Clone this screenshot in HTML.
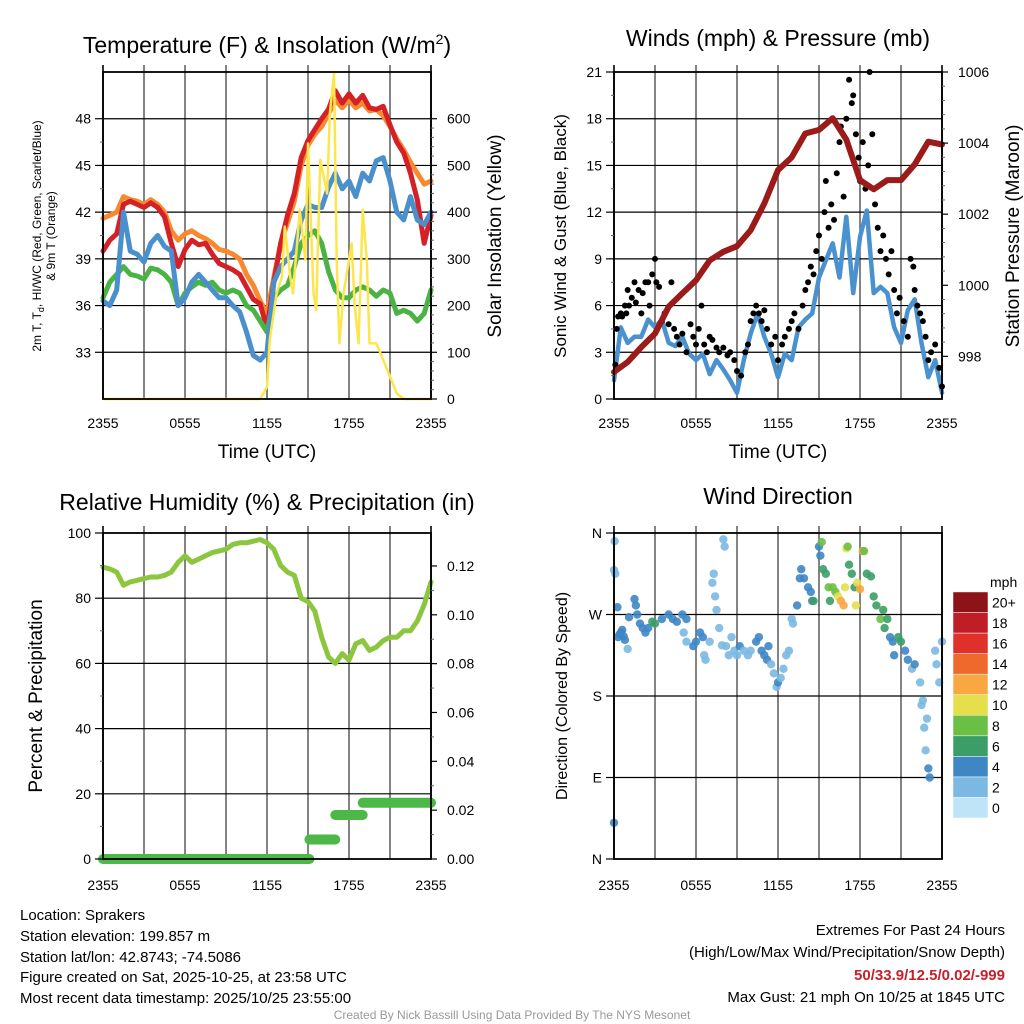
<!DOCTYPE html>
<html><head><meta charset="utf-8"><style>
body{margin:0;background:#fff;}
svg{display:block;font-family:"Liberation Sans",sans-serif;}
</style></head><body>
<svg id="chart" width="1024" height="1024" viewBox="0 0 1024 1024" xmlns="http://www.w3.org/2000/svg">
<g id="static">
<text x="267" y="53" font-size="23" text-anchor="middle">Temperature (F) &amp; Insolation (W/m<tspan dy="-9" font-size="14">2</tspan><tspan dy="9">)</tspan></text>
<text x="778" y="46" font-size="23" text-anchor="middle">Winds (mph) &amp; Pressure (mb)</text>
<text x="267" y="510" font-size="23" text-anchor="middle">Relative Humidity (%) &amp; Precipitation (in)</text>
<text x="778" y="504" font-size="23" text-anchor="middle">Wind Direction</text>
<text x="267" y="458" font-size="19" text-anchor="middle">Time (UTC)</text>
<text x="778" y="458" font-size="19" text-anchor="middle">Time (UTC)</text>
<text transform="translate(41,236) rotate(-90)" font-size="12" text-anchor="middle">2m T, T<tspan dy="3" font-size="9">d</tspan><tspan dy="-3">, HI/WC (Red, Green, Scarlet/Blue)</tspan></text>
<text transform="translate(55,236) rotate(-90)" font-size="12" text-anchor="middle">&amp; 9m T (Orange)</text>
<text transform="translate(501,236) rotate(-90)" font-size="19" text-anchor="middle">Solar Insolation (Yellow)</text>
<text transform="translate(566,236) rotate(-90)" font-size="17" text-anchor="middle">Sonic Wind &amp; Gust (Blue, Black)</text>
<text transform="translate(1019,236) rotate(-90)" font-size="19" text-anchor="middle">Station Pressure (Maroon)</text>
<text transform="translate(42,696) rotate(-90)" font-size="19" text-anchor="middle">Percent &amp; Precipitation</text>
<text transform="translate(567,696) rotate(-90)" font-size="16" text-anchor="middle">Direction (Colored By Speed)</text>
<text x="990" y="587" font-size="14">mph</text>
<g font-size="15">
<text x="20" y="920">Location: Sprakers</text>
<text x="20" y="941">Station elevation: 199.857 m</text>
<text x="20" y="962">Station lat/lon: 42.8743; -74.5086</text>
<text x="20" y="982">Figure created on Sat, 2025-10-25, at 23:58 UTC</text>
<text x="20" y="1003">Most recent data timestamp: 2025/10/25 23:55:00</text>
</g>
<g font-size="15" text-anchor="end">
<text x="1005" y="935">Extremes For Past 24 Hours</text>
<text x="1005" y="957">(High/Low/Max Wind/Precipitation/Snow Depth)</text>
<text x="1005" y="980" fill="#c8202a" font-weight="bold">50/33.9/12.5/0.02/-999</text>
<text x="1005" y="1002">Max Gust: 21 mph On 10/25 at 1845 UTC</text>
</g>
<text x="512" y="1019" font-size="12" fill="#999" text-anchor="middle">Created By Nick Bassill Using Data Provided By The NYS Mesonet</text>
</g>
<g id="dyn"></g>
</svg>
<script>
// ---- Panel 1 data (half-hourly from 2355) ----
const tempRed=[39.5,40.2,40.6,42.5,42.7,42.5,42.3,42.6,42.3,41.7,40.0,38.5,39.6,40.2,39.9,40.0,39.3,38.7,38.5,38.3,38.0,37.2,36.4,36.1,34.5,37.5,40.0,41.8,43.2,45.5,46.6,47.3,48.0,48.6,49.8,49.0,49.6,49.0,49.5,48.7,48.6,48.8,47.6,46.5,45.8,44.5,42.8,40.0,41.8];
const temp9m=[41.6,41.8,42.0,43.0,42.8,42.7,42.5,42.8,42.5,42.0,40.8,40.2,40.6,40.8,40.5,40.3,40.0,39.6,39.5,39.3,39.0,38.0,37.3,36.3,35.5,37.8,40.0,41.3,42.7,45.0,46.3,47.0,47.5,48.3,49.2,48.7,49.2,48.7,49.0,48.5,48.6,48.2,47.5,46.7,46.0,45.2,44.5,43.8,44.0];
const windChill=[36.3,36.0,37.0,42.0,39.5,39.3,38.8,40.0,40.5,39.8,39.5,36.0,36.5,37.5,38.0,37.5,37.0,36.5,36.5,36.0,35.6,34.3,32.8,32.5,33.0,37.5,38.5,39.0,39.5,41.5,42.5,42.3,42.3,43.6,44.5,43.5,44.0,43.0,44.5,44.0,45.3,45.5,44.0,42.0,41.5,43.0,41.5,41.2,42.0];
const dewPoint=[36.5,37.5,38.0,38.5,38.0,37.9,37.7,38.4,38.3,38.0,37.5,36.0,36.8,37.2,37.5,37.3,37.5,37.0,36.8,37.0,36.8,36.0,35.7,35.0,34.3,36.5,37.0,37.3,38.5,40.0,40.5,40.8,40.0,38.2,37.0,36.5,36.5,37.0,37.2,37.0,36.6,37.0,36.8,35.5,35.7,35.5,35.0,35.5,37.0];
const solarHours=[0,11.5,12.0,12.2,12.7,13.1,13.3,13.7,13.9,14.4,14.8,15.0,15.4,15.6,15.9,16.4,16.6,16.9,17.1,17.3,17.6,17.8,18.2,18.4,18.7,19.0,19.3,19.5,20.0,20.5,21.0,21.5,22.0,24];
const solarValues=[0,0,26,126,226,262,369,262,226,405,298,547,226,190,512,440,612,697,298,119,226,262,333,205,119,405,298,119,119,84,48,12,0,0];
const tempTicks=[33,36,39,42,45,48];
const solarTicks=[0,100,200,300,400,500,600];
const timeTickHours=[0,6,12,18,24];
const timeTickLabels=["2355","0555","1155","1755","2355"];
// ---- Panel 2 data ----
const windSpeed=[1.2,4.6,3.6,4.0,4.0,5.1,4.6,5.1,3.6,3.4,4.0,2.9,2.5,2.9,1.6,2.5,1.9,1.2,0.4,2.5,4.2,5.5,4.0,2.9,1.4,2.9,2.5,4.6,5.1,5.5,7.8,8.9,10.0,7.8,11.7,6.8,10.4,12.1,6.8,7.2,6.8,4.6,3.6,5.7,6.4,3.6,1.4,2.5,0.4];
const pressure=[997.56,997.84,998.26,998.64,999.4,999.77,1000.14,1000.7,1000.94,1001.1,1001.55,1002.3,1003.24,1003.6,1004.27,1004.37,1004.7,1004.1,1002.96,1002.7,1002.96,1002.96,1003.4,1004.04,1003.96];
const gustHours=[0.1,0.2,0.3,0.5,0.6,0.8,0.9,1.0,1.1,1.3,1.5,1.6,1.8,2.0,2.1,2.3,2.5,2.6,2.8,3.0,3.1,3.3,3.5,3.7,4.0,4.2,4.4,4.6,4.8,5.0,5.3,5.6,5.8,6.0,6.2,6.4,6.6,6.8,7.0,7.2,7.5,7.7,8.0,8.3,8.5,8.8,9.0,9.3,9.6,9.8,10.0,10.2,10.4,10.6,10.8,11.0,11.2,11.5,11.8,12.0,12.3,12.5,12.8,13.0,13.2,13.5,13.8,14.0,14.2,14.4,14.6,14.8,15.0,15.2,15.4,15.5,15.7,15.9,16.1,16.3,16.5,16.6,16.8,17.0,17.2,17.4,17.5,17.7,17.9,18.0,18.2,18.4,18.6,18.7,18.9,19.1,19.3,19.5,19.7,19.9,20.1,20.3,20.5,20.7,20.9,21.2,21.5,21.7,21.9,22.0,22.2,22.4,22.6,22.8,23.0,23.2,23.5,23.8,24.0];
const gustValues=[2.2,4.5,5.3,5.5,5.3,6.0,5.5,7.0,6.0,6.5,7.5,6.2,7.0,5.5,6.8,7.5,7.5,6.0,8.0,9.0,7.5,7.2,5.0,5.5,4.8,7.5,4.5,4.0,3.5,4.2,3.0,4.8,4.0,3.5,4.5,6.0,3.5,3.0,4.0,3.8,3.3,3.0,3.3,2.8,3.0,2.5,1.8,1.5,3.0,3.5,5.0,5.5,6.0,5.5,5.0,5.7,4.5,3.5,4.0,2.5,3.5,4.0,4.5,5.0,5.5,4.5,6.0,7.0,7.5,8.5,8.0,9.5,10.5,9.0,12.0,14.0,11.0,12.5,11.5,14.5,16.5,17.5,13.0,18.0,20.5,19.0,19.5,17.0,15.5,14.0,16.5,13.5,15.0,21.0,17.0,12.5,11.0,9.5,10.5,9.0,8.0,9.5,7.0,5.5,6.5,5.0,4.0,9.0,8.5,7.0,6.0,5.5,5.0,4.0,2.5,3.0,3.5,2.0,0.8];
const windTicks=[0,3,6,9,12,15,18,21];
const pressureTicks=[998,1000,1002,1004,1006];
// ---- Panel 3 data ----
const relHum=[89.5,89,88,84,85,85.5,86,86.5,86.5,87,88,91,93,91,92,93,94,94.5,95,96.5,97,97,97.5,98,97,95,90,88,87,80,79,76,68,62,60,63,61,66,67,64,65,67,68,68,70,70,73,78,85];
const precipHours=[0,15.1,15.1,17.0,17.0,19.0,19.0,24];
const precipValues=[0,0,0.008,0.008,0.018,0.018,0.023,0.023];
const rhTicks=[0,20,40,60,80,100];
const precipTicks=[0,0.02,0.04,0.06,0.08,0.10,0.12];
// ---- Panel 4 data ----
const dirHours=[0.05,0.0,0.1,0.25,0.3,0.4,0.5,0.6,0.7,0.8,1.0,1.1,1.5,1.6,1.7,1.9,2.1,2.3,2.5,2.8,3.0,3.5,4.0,4.3,4.6,5.0,5.3,5.1,5.3,5.8,6.0,6.3,6.5,6.6,6.7,7.0,7.2,7.3,7.4,7.5,7.7,7.9,8.0,8.1,8.2,8.4,8.6,8.8,9.0,9.2,9.5,9.8,10.0,10.4,10.6,10.8,11.0,11.2,11.3,11.5,11.7,11.9,12.0,12.2,12.4,12.6,12.8,13.0,13.1,13.4,13.6,13.7,13.9,14.2,14.4,14.5,14.6,15.0,15.1,15.2,15.3,15.5,15.7,15.8,16.0,16.2,16.4,16.6,16.8,16.9,17.0,17.1,17.2,17.4,17.6,17.7,17.8,18.0,18.2,18.3,18.5,18.8,19.0,19.2,19.5,19.7,19.8,20.0,20.2,20.4,20.5,20.8,21.0,21.3,21.5,21.8,22.0,22.4,22.5,22.6,22.7,22.9,22.8,23.0,23.1,23.5,23.6,23.8,24.0,0.0];
const dirDegs=[351,319,315,278,245,248,250,253,246,242,232,267,287,280,270,260,255,250,255,262,260,265,270,265,262,270,265,250,240,235,240,250,245,225,220,240,305,315,290,275,255,236,353,345,235,225,245,230,225,235,230,225,230,240,245,230,225,220,235,215,205,190,195,200,210,225,230,265,260,280,310,320,310,300,295,285,285,345,335,350,320,315,300,285,300,295,290,285,280,300,343,345,325,315,300,280,305,298,340,340,315,312,290,280,265,275,255,265,245,240,225,245,240,230,220,210,215,195,170,175,145,155,120,100,90,230,215,195,240,40];
const dirSpeeds=[1,2,2,4,4,4,4,4,4,4,2,3,4,4,4,4,4,4,4,5,6,4,4,4,4,3,3,2,1,4,4,4,3,2,2,2,2,2,2,2,2,2,2,2,2,2,1,2,2,3,2,2,2,4,4,4,4,4,3,2,2,2,4,2,2,2,2,2,2,4,4,4,4,4,4,4,6,4,4,8,6,6,8,6,8,8,9,11,12,10,10,8,6,6,6,9,10,12,12,8,6,6,6,6,7,6,6,6,4,4,4,6,6,4,4,2,3,2,2,1,2,1,1,4,3,1,2,2,1,4];
const dirTicks=[0,90,180,270,360];
const dirTickLabels=["N","E","S","W","N"];
const speedBinLabels=["0","2","4","6","8","10","12","14","16","18","20+"];
const speedColors=["#bfe4f8","#7bb9e2","#3f86c4","#3b9e66","#6cbf45","#e6df4c","#f8a743","#f0692c","#df3129","#c01e26","#8c1418"];

const NS="http://www.w3.org/2000/svg";
const dyn=document.getElementById('dyn');
function mk(tag,attrs,parent){const e=document.createElementNS(NS,tag);for(const k in attrs)e.setAttribute(k,attrs[k]);(parent||dyn).appendChild(e);return e;}
function txt(x,y,s,size,anchor,parent){const e=mk('text',{x:x,y:y,'font-size':size,'text-anchor':anchor},parent);e.textContent=s;return e;}

function panel(x0,x1,y0,y1){
  const xs=h=>x0+h*(x1-x0)/24;
  return {x0,x1,y0,y1,xs};
}
const P1=panel(103,431,72,399),P2=panel(614,942,72,399),P3=panel(103,431,533,859),P4=panel(614,942,533,859);
const yT=v=>399-(v-30)*327/21, yS=v=>399-v*327/700;
const yW=v=>399-v*327/21, yP=v=>399-(v-996.8)*327/(1006-996.8);
const yR=v=>859-v*3.26, yPr=v=>859-v*2442;
const yD=d=>859-d*326/360;

function grid(P,hVals,yf,name){
  const g=mk('g',{});
  
  
  for(let h=0;h<=24;h+=3){mk('line',{x1:P.xs(h),x2:P.xs(h),y1:P.y0-7,y2:P.y1,stroke:(h%24===0?'#000':'#666'),'stroke-width':1.6},g);}
  hVals.forEach(v=>{mk('line',{x1:P.x0,x2:P.x1,y1:yf(v),y2:yf(v),stroke:'#000','stroke-width':1.2},g);});
}
function frame(P,name){
  const r=mk('rect',{x:P.x0,y:P.y0,width:P.x1-P.x0,height:P.y1-P.y0,fill:'none',stroke:'#000','stroke-width':1.8});
  
  
}
function xTicks(P,ly,name){
  const g=mk('g',{});
  
  
  timeTickHours.forEach((h,i)=>{txt(P.xs(h),ly,timeTickLabels[i],14,'middle',g);});
}
// side: 'left' or 'right'; ax = axis x; nMinor = minor subdivisions per major step
function yTicks(vals,labels,yf,ax,side,nMinor,name){
  const g=mk('g',{});
  
  
  const dir=side==='left'?-1:1;
  vals.forEach((v,i)=>{
    const lx=side==='left'?ax-12:ax+16;
    txt(lx,yf(v)+5,labels[i],14,side==='left'?'end':'start',g);
    mk('line',{x1:ax,x2:ax+dir*(side==='left'?8:6),y1:yf(v),y2:yf(v),stroke:'#000','stroke-width':1.2},g);
    if(i<vals.length-1){
      for(let k=1;k<nMinor;k++){const mv=v+(vals[i+1]-v)*k/nMinor;
        mk('line',{x1:ax,x2:ax+dir*3,y1:yf(mv),y2:yf(mv),stroke:'#666','stroke-width':1},g);}
    }
  });
}
function line(P,hours,vals,yf,color,w,name){
  let d='';hours.forEach((h,i)=>{d+=(i?'L':'M')+P.xs(h).toFixed(1)+' '+yf(vals[i]).toFixed(1);});
  const p=mk('path',{d:d,fill:'none',stroke:color,'stroke-width':w,'stroke-linejoin':'round','stroke-linecap':'round'});
  
  
}
const half=n=>Array.from({length:n},(_,i)=>i*24/(n-1));

// Panel 1
grid(P1,tempTicks,yT,'temp');
line(P1,half(temp9m.length),temp9m,yT,'#f7892f',5,'temp-9m-line');
line(P1,half(tempRed.length),tempRed,yT,'#d42027',5,'temp-2m-line');
line(P1,half(dewPoint.length),dewPoint,yT,'#4bb344',5,'dewpoint-line');
line(P1,half(windChill.length),windChill,yT,'#4a90cc',5,'windchill-line');
line(P1,solarHours,solarValues,yS,'#fde64b',2.5,'solar-line');
frame(P1,'temp');xTicks(P1,428,'temp');
yTicks(tempTicks,tempTicks.map(String),yT,P1.x0,'left',2,'temp-y-ticks');
yTicks(solarTicks,solarTicks.map(String),yS,P1.x1,'right',5,'solar-y-ticks');
// Panel 2
grid(P2,windTicks.slice(1,7),yW,'wind');
line(P2,half(windSpeed.length),windSpeed,yW,'#4a92cf',4.5,'wind-speed-line');
gustHours.forEach((h,i)=>{const c=mk('circle',{cx:P2.xs(h),cy:yW(gustValues[i]),r:3,fill:'#000'});

});
line(P2,half(pressure.length),pressure,yP,'#9b1b1b',6,'pressure-line');
frame(P2,'wind');xTicks(P2,428,'wind');
yTicks(windTicks,windTicks.map(String),yW,P2.x0,'left',2,'wind-y-ticks');
yTicks(pressureTicks,pressureTicks.map(String),yP,P2.x1,'right',5,'pressure-y-ticks');
// Panel 3
grid(P3,[20,40,60,80],yR,'rh');
line(P3,half(relHum.length),relHum,yR,'#8cc63f',5,'rh-line');
line(P3,precipHours.slice(0,2),precipValues.slice(0,2),yPr,'#4bb848',10,'precip-step-0');
for(let i=2;i<precipHours.length;i+=2){line(P3,precipHours.slice(i,i+2),precipValues.slice(i,i+2),yPr,'#4bb848',10,'precip-step');}
frame(P3,'rh');xTicks(P3,890,'rh');
yTicks(rhTicks,rhTicks.map(String),yR,P3.x0,'left',2,'rh-y-ticks');
yTicks(precipTicks,precipTicks.map(v=>v.toFixed(2)),yPr,P3.x1,'right',2,'precip-y-ticks');
// Panel 4
grid(P4,[90,180,270],yD,'dir');
dirHours.forEach((h,i)=>{const b=Math.min(10,Math.round(dirSpeeds[i]/2));
const c=mk('circle',{cx:P4.xs(h),cy:yD(dirDegs[i]),r:4.2,fill:speedColors[b],opacity:0.9});

});
frame(P4,'dir');xTicks(P4,890,'dir');
yTicks(dirTicks,dirTickLabels,yD,P4.x0,'left',1,'dir-y-ticks');
// colorbar
const cb=mk('g',{});


speedColors.forEach((c,i)=>{const y=818-(i+1)*20.55;
mk('rect',{x:953,y:y,width:35,height:20.55,fill:c,stroke:'#fff','stroke-width':0.5},cb);
txt(992,y+15.5,speedBinLabels[i],14,'start',cb);});
</script>
</body></html>
